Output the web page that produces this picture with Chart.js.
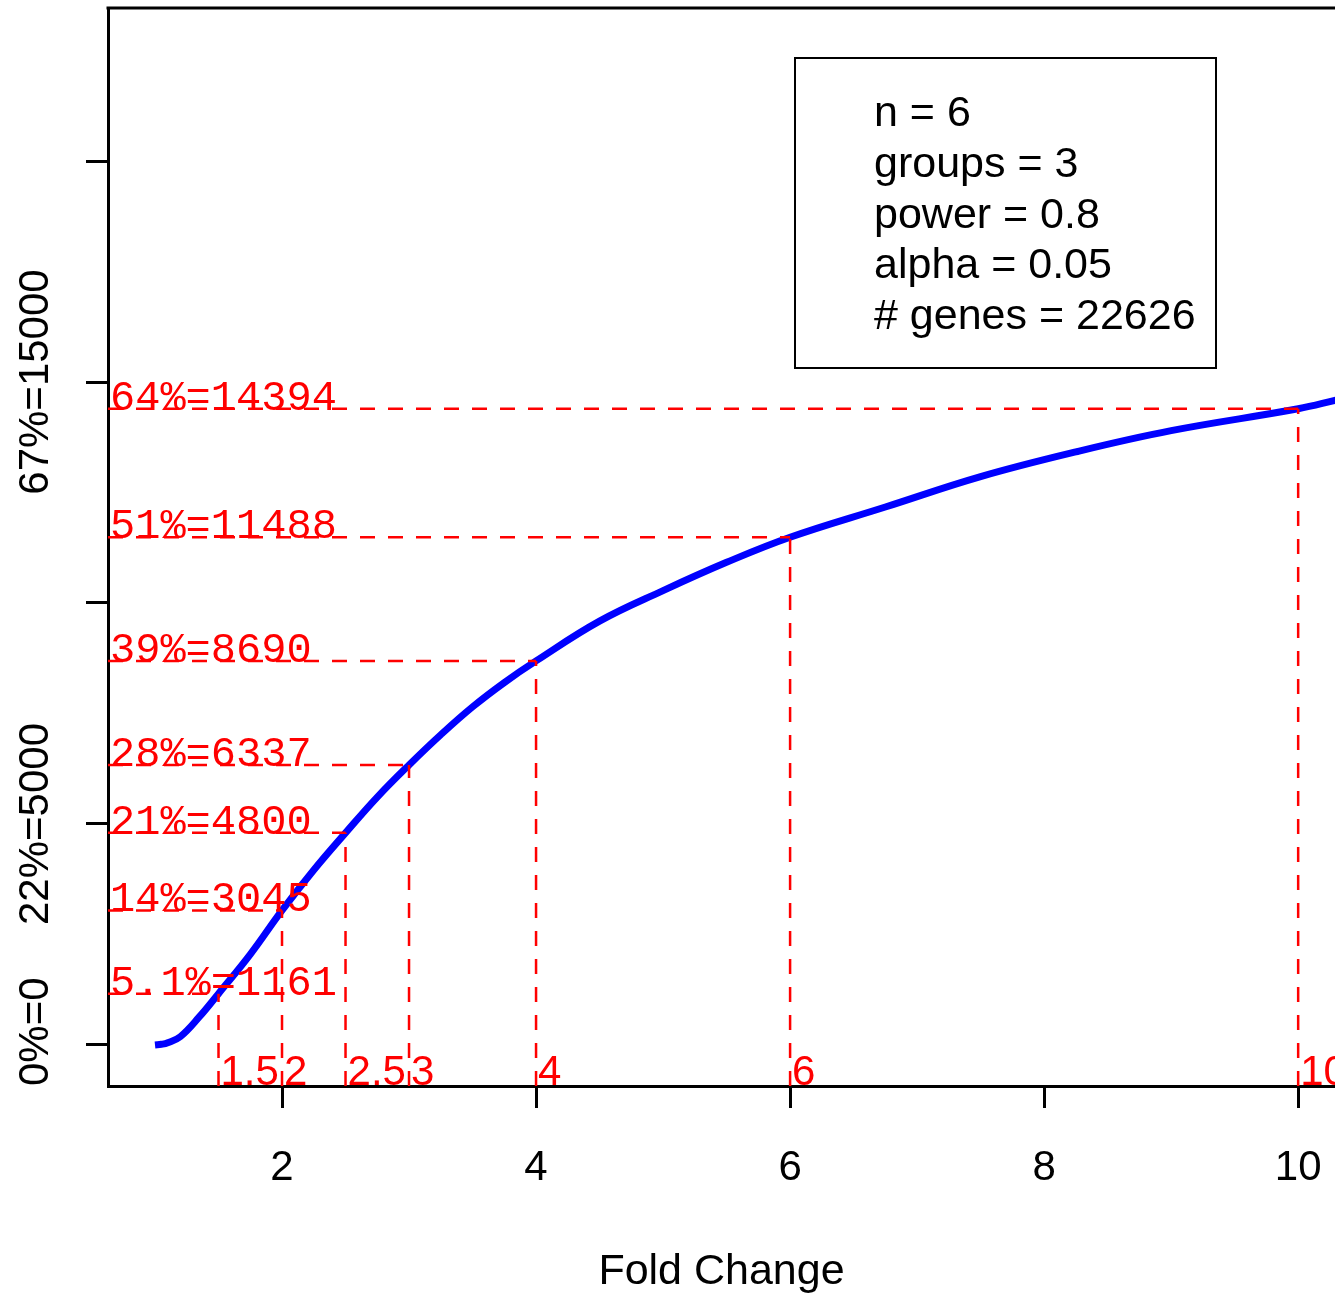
<!DOCTYPE html>
<html>
<head>
<meta charset="utf-8">
<script src="https://cdn.jsdelivr.net/npm/chart.js@4.4.1/dist/chart.umd.min.js"></script>
<style>
  html, body { margin: 0; padding: 0; background: #fff; overflow: hidden; }
</style>
</head>
<body>
<canvas id="powerChart" width="1335" height="1295"></canvas>
<script>
// curve
const foldChange = [1.0, 1.05, 1.1, 1.2, 1.35, 1.5, 1.75, 2.0, 2.25, 2.5, 2.75, 3.0, 3.25, 3.5, 3.75, 4.0, 4.5, 5.0, 5.5, 6.0, 6.75, 7.5, 8.25, 9.0, 10.0, 10.3];
const genesDetected = [0, 15, 50, 190, 640, 1161, 2050, 3045, 3960, 4800, 5610, 6337, 7020, 7650, 8200, 8690, 9590, 10280, 10920, 11488, 12172, 12860, 13420, 13900, 14394, 14590];

// marked fold changes
const markFold = [1.5, 2, 2.5, 3, 4, 6, 10];
const markGenes = [1161, 3045, 4800, 6337, 8690, 11488, 14394];
const markPct = ["5.1%", "14%", "21%", "28%", "39%", "51%", "64%"];
const markFoldText = ["1.5", "2", "2.5", "3", "4", "6", "10"];

const xTicks = [2, 4, 6, 8, 10];
const yTicks = [0, 5000, 10000, 15000, 20000];
const yTickText = { 0: "0%=0", 5000: "22%=5000", 15000: "67%=15000" };

const infoLines = ["n = 6", "groups = 3", "power = 0.8", "alpha = 0.05", "# genes = 22626"];

const X_MIN = 0.63, X_MAX = 10.29;
const Y_MIN = -928, Y_MAX = 23462;

Chart.defaults.font.family = "'Liberation Sans', Arial, sans-serif";
Chart.defaults.color = "#000";

const RED = "#ff0000";
const guideStyle = {
  borderColor: RED,
  borderWidth: 2.5,
  borderDash: [15, 13],
  pointRadius: 0,
  fill: false,
  order: 1
};

const guides = [];
markFold.forEach((f, i) => {
  guides.push(Object.assign({ data: [{ x: X_MIN, y: markGenes[i] }, { x: f, y: markGenes[i] }] }, guideStyle));
  guides.push(Object.assign({ data: [{ x: f, y: Y_MIN }, { x: f, y: markGenes[i] }] }, guideStyle));
});

const extras = {
  id: "extras",
  afterDatasetsDraw(chart) {
    const { ctx, chartArea, scales } = chart;
    const xs = scales.x, ys = scales.y;
    ctx.save();

    // top frame line
    ctx.strokeStyle = "#000";
    ctx.lineWidth = 3;
    ctx.beginPath();
    ctx.moveTo(chartArea.left - 1.5, chartArea.top);
    ctx.lineTo(chartArea.right, chartArea.top);
    ctx.stroke();

    // red value labels
    ctx.fillStyle = RED;
    ctx.textBaseline = "alphabetic";
    ctx.textAlign = "left";
    ctx.font = "42px 'Liberation Mono', monospace";
    markGenes.forEach((g, i) => {
      ctx.fillText(markPct[i] + "=" + g, chartArea.left + 2, ys.getPixelForValue(g) + 1);
    });
    ctx.font = "42px 'Liberation Sans', Arial, sans-serif";
    markFold.forEach((f, i) => {
      ctx.fillText(markFoldText[i], xs.getPixelForValue(f) + 2, chartArea.bottom - 1);
    });

    // rotated y labels
    ctx.fillStyle = "#000";
    ctx.textAlign = "center";
    ctx.font = "42px 'Liberation Sans', Arial, sans-serif";
    yTicks.forEach(v => {
      const t = yTickText[v];
      if (!t) return;
      const w = ctx.measureText(t).width;
      const cy = Math.min(ys.getPixelForValue(v), chartArea.bottom - w / 2);
      ctx.save();
      ctx.translate(48, cy);
      ctx.rotate(-Math.PI / 2);
      ctx.fillText(t, 0, 0);
      ctx.restore();
    });

    // info box
    ctx.strokeStyle = "#000";
    ctx.lineWidth = 2;
    ctx.strokeRect(795, 58, 421, 310);
    ctx.textAlign = "left";
    ctx.font = "43px 'Liberation Sans', Arial, sans-serif";
    infoLines.forEach((line, i) => {
      ctx.fillText(line, 874, 126 + i * 50.8);
    });

    ctx.restore();
  }
};

new Chart(document.getElementById("powerChart"), {
  type: "line",
  data: {
    datasets: [
      {
        data: foldChange.map((x, i) => ({ x: x, y: genesDetected[i] })),
        borderColor: "#0000ff",
        borderWidth: 7,
        pointRadius: 0,
        tension: 0.4,
        fill: false,
        order: 10
      }
    ].concat(guides)
  },
  options: {
    responsive: false,
    animation: false,
    layout: { padding: { top: 8, right: 0, bottom: 0, left: 0 } },
    plugins: {
      legend: { display: false },
      tooltip: { enabled: false }
    },
    scales: {
      x: {
        type: "linear",
        min: X_MIN,
        max: X_MAX,
        afterBuildTicks: s => { s.ticks = xTicks.map(v => ({ value: v })); },
        afterFit: s => { s.height = 209; s.paddingLeft = 0; s.paddingRight = 0; },
        grid: { drawOnChartArea: false, drawTicks: true, tickLength: 22, color: "#000", lineWidth: 3 },
        border: { display: true, color: "#000", width: 3 },
        ticks: { font: { size: 42 }, color: "#000", padding: 35, maxRotation: 0 },
        title: { display: true, text: "Fold Change", font: { size: 43 }, color: "#000", padding: { top: 0, bottom: -3 } }
      },
      y: {
        type: "linear",
        min: Y_MIN,
        max: Y_MAX,
        afterBuildTicks: s => { s.ticks = yTicks.map(v => ({ value: v })); },
        afterFit: s => { s.width = 108; s.paddingTop = 0; s.paddingBottom = 0; },
        grid: { drawOnChartArea: false, drawTicks: true, tickLength: 22, color: "#000", lineWidth: 3 },
        border: { display: true, color: "#000", width: 3 },
        ticks: { display: false }
      }
    }
  },
  plugins: [extras]
});
</script>
</body>
</html>
